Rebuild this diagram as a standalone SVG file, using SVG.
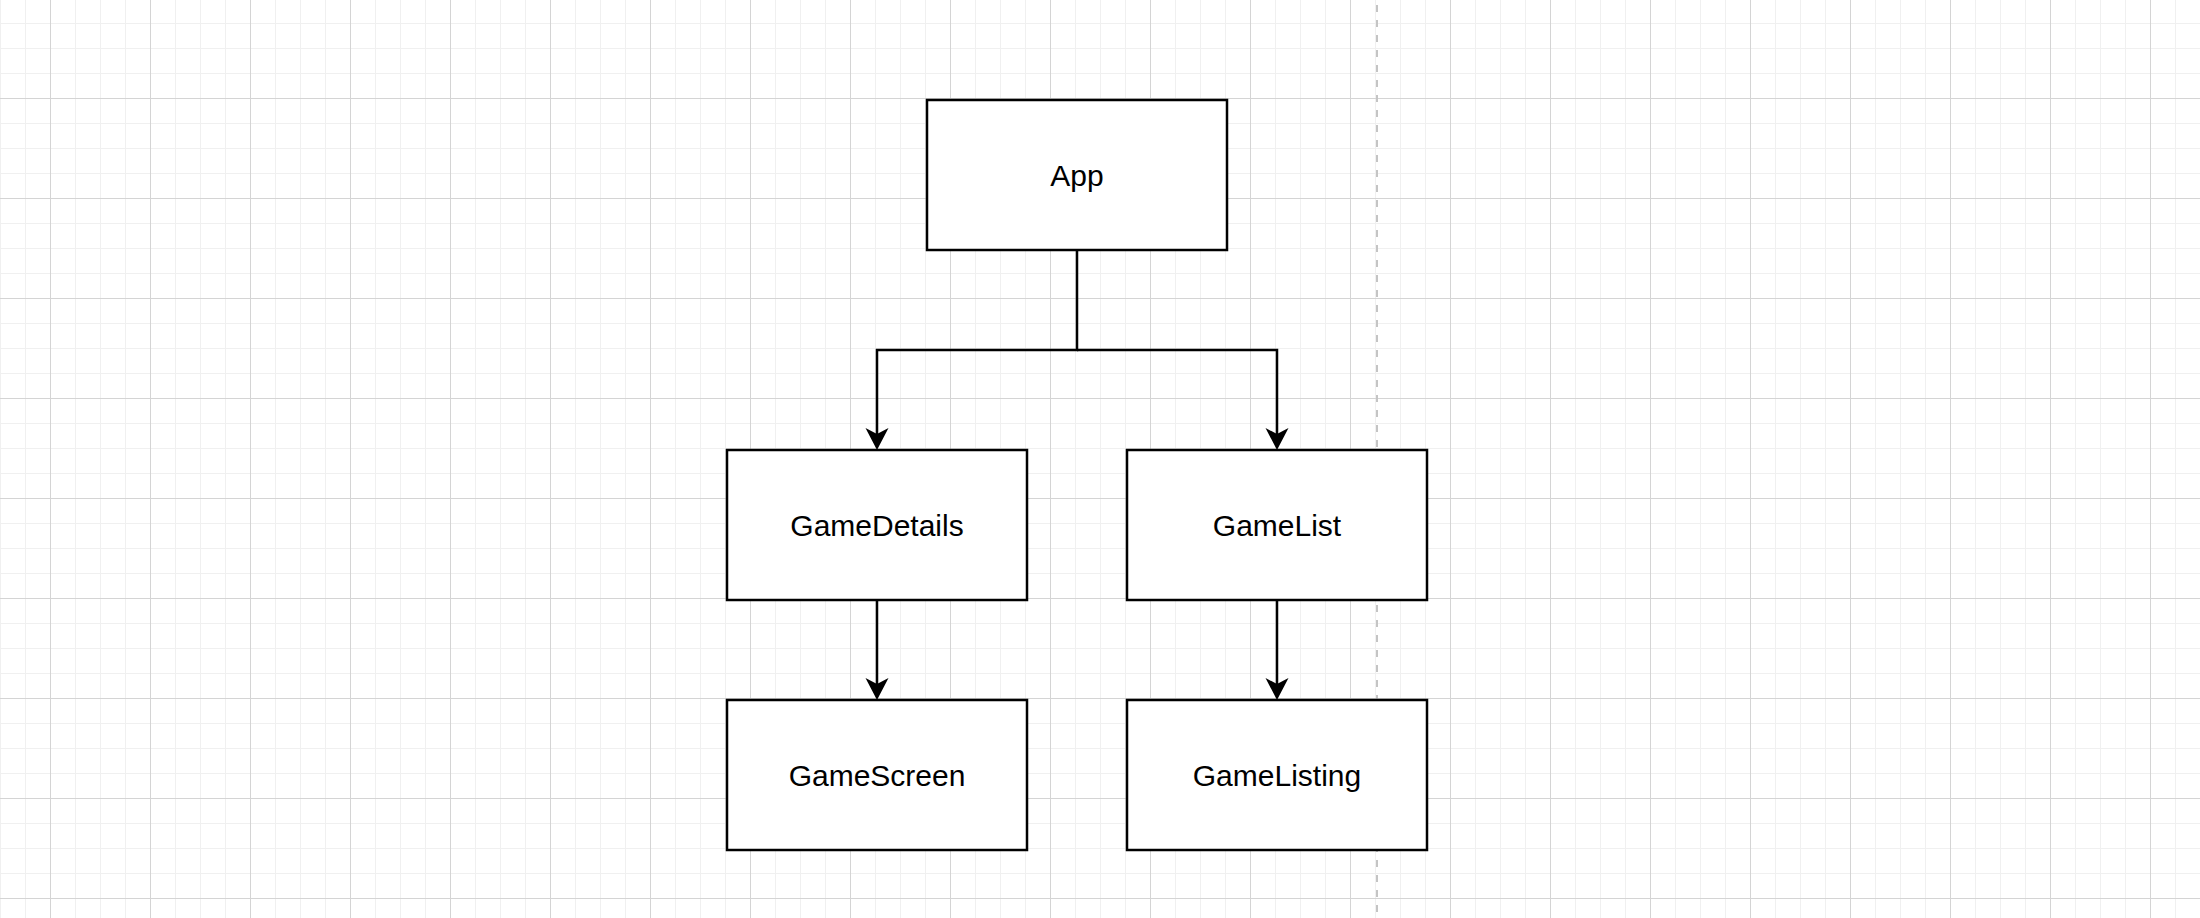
<svg xmlns="http://www.w3.org/2000/svg" width="2200" height="918" viewBox="0 0 2200 918">
  <defs>
    <pattern id="grid" patternUnits="userSpaceOnUse" x="50" y="98" width="100" height="100">
      <path d="M25.5 0V100M50.5 0V100M75.5 0V100M0 25.5H100M0 50.5H100M0 75.5H100" stroke="#f0f0f0" stroke-width="1" fill="none"/>
      <path d="M0.5 0V100M0 0.5H100" stroke="#d4d4d4" stroke-width="1" fill="none"/>
    </pattern>
    <marker id="arrow" markerUnits="userSpaceOnUse" markerWidth="24" markerHeight="24" viewBox="0 0 24 24" refX="12" refY="12" orient="auto">
      <path d="M22 12L0 0.5L6 12L0 23.5Z" fill="#000"/>
    </marker>
  </defs>
  <style>
    .box { fill: #ffffff; stroke: #000000; stroke-width: 2.5; }
    .lbl { font-family: "Liberation Sans", Arial, sans-serif; font-size: 30px; fill: #000000; text-anchor: middle; }
    .edge { fill: none; stroke: #000000; stroke-width: 2.5; }
  </style>
  <rect width="2200" height="918" fill="#ffffff"/>
  <rect width="2200" height="918" fill="url(#grid)"/>
  <line x1="1377" y1="0" x2="1377" y2="918" stroke="#c4c4c4" stroke-width="2" stroke-dasharray="7 8" stroke-dashoffset="-5"/>
  <g id="connectors">
    <path class="edge" d="M1077 250V350H877V440" marker-end="url(#arrow)"/>
    <path class="edge" d="M1077 350H1277V440" marker-end="url(#arrow)"/>
    <path class="edge" d="M877 600V690" marker-end="url(#arrow)"/>
    <path class="edge" d="M1277 600V690" marker-end="url(#arrow)"/>
  </g>
  <g id="node-app">
    <rect class="box" x="927" y="100" width="300" height="150"/>
    <text class="lbl" x="1077" y="185.5">App</text>
  </g>
  <g id="node-gamedetails">
    <rect class="box" x="727" y="450" width="300" height="150"/>
    <text class="lbl" x="877" y="535.5">GameDetails</text>
  </g>
  <g id="node-gamelist">
    <rect class="box" x="1127" y="450" width="300" height="150"/>
    <text class="lbl" x="1277" y="535.5">GameList</text>
  </g>
  <g id="node-gamescreen">
    <rect class="box" x="727" y="700" width="300" height="150"/>
    <text class="lbl" x="877" y="785.5">GameScreen</text>
  </g>
  <g id="node-gamelisting">
    <rect class="box" x="1127" y="700" width="300" height="150"/>
    <text class="lbl" x="1277" y="785.5">GameListing</text>
  </g>
</svg>
